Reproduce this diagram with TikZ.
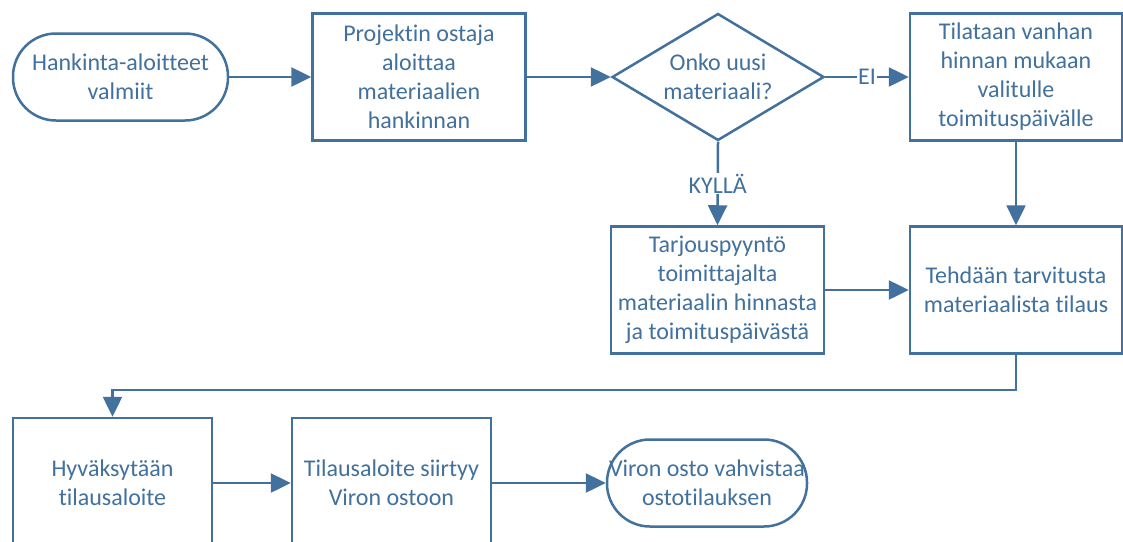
\documentclass[tikz,border=0pt]{standalone}
\usepackage{fontspec}
\setmainfont[Ligatures=NoCommon]{Carlito}
\usetikzlibrary{arrows.meta,shapes.geometric}
\definecolor{flowblue}{HTML}{41719C}
\begin{document}
\begin{tikzpicture}[x=1pt,y=-1pt,
  every node/.style={text=flowblue,font=\fontsize{24pt}{29pt}\selectfont,align=center},
  stepbox/.style={draw=flowblue,line width=2.5pt,rectangle,inner sep=0pt,
    minimum width=213pt,minimum height=127pt},
  smallbox/.style={stepbox,minimum width=199pt,minimum height=130pt},
  terminal/.style={draw=flowblue,line width=2.5pt,rectangle,rounded corners=43pt,
    inner sep=0pt,minimum height=87pt},
  decision/.style={draw=flowblue,line width=2.5pt,diamond,inner sep=0pt,
    minimum width=212pt,minimum height=127pt},
  flow/.style={draw=flowblue,line width=2.5pt,-{Triangle[length=20pt,width=19pt]}},
  branch/.style={fill=white,inner sep=1pt}]
\clip (0,0) rectangle (1123,541);
\fill[white] (0,0) rectangle (1123,541);

% top row
\node[terminal,minimum width=215pt] (start) at (120.5,77) {Hankinta-aloitteet\\valmiit};
\node[stepbox] (begin) at (419,77) {Projektin ostaja\\aloittaa\\materiaalien\\hankinnan};
\node[decision] (newmat) at (718,77) {};
\node (newmattext) at (newmat.center) {Onko uusi\\materiaali?};
\node[stepbox,minimum width=212pt] (oldprice) at (1016,77) {Tilataan vanhan\\hinnan mukaan\\valitulle\\toimituspäivälle};

% middle row
\node[stepbox] (quote) at (717.5,290) {Tarjouspyyntö\\toimittajalta\\materiaalin hinnasta\\ja toimituspäivästä};
\node[stepbox,minimum width=212pt] (order) at (1016,290) {Tehdään tarvitusta\\materiaalista tilaus};

% bottom row
\node[smallbox] (approve) at (112.5,483) {Hyväksytään\\tilausaloite};
\node[smallbox] (transfer) at (391.5,483) {Tilausaloite siirtyy\\Viron ostoon};
\node[terminal,minimum width=200pt] (confirm) at (707,483) {Viron osto vahvistaa\\ostotilauksen};

% connectors
\draw[flow] (start) -- (begin);
\draw[flow] (begin) -- (newmat);
\draw[flow] (newmat.east) -- node[branch] {EI} (oldprice.west);
\draw[flow] (newmat.south) -- node[branch] {KYLLÄ} (quote.north);
\draw[flow] (oldprice) -- (order);
\draw[flow] (quote) -- (order);
\coordinate (turn) at (560,390);
\draw[flow] (order.south) |- (turn) -| (approve.north);
\draw[flow] (approve) -- (transfer);
\draw[flow] (transfer) -- (confirm);
\end{tikzpicture}
\end{document}
